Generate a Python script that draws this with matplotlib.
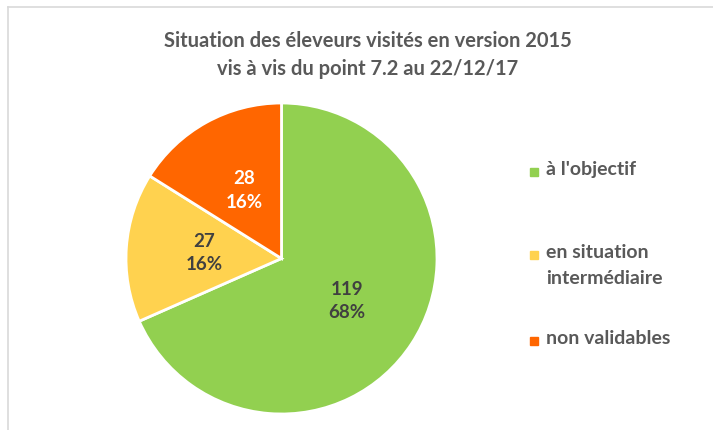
import matplotlib.pyplot as plt
from matplotlib.patches import Rectangle

# Data
labels = ["à l'objectif", "en situation\nintermédiaire", "non validables"]
values = [119, 27, 28]
colors = ["#92D050", "#FFD24F", "#FF6600"]
text_colors = ["#404040", "#404040", "#FFFFFF"]
title = "Situation des éleveurs visités en version 2015\nvis à vis du point 7.2 au 22/12/17"

plt.rcParams['font.family'] = ['Lato', 'DejaVu Sans']

W, H = 713, 430
fig = plt.figure(figsize=(W / 100, H / 100), dpi=100)

# thin frame of the chart area (cropped on right/bottom)
fig.add_artist(plt.Line2D([8 / W, 1], [1 - 7 / H, 1 - 7 / H], color="#D9D9D9", lw=1.2))
fig.add_artist(plt.Line2D([8 / W, 8 / W], [0, 1 - 7 / H], color="#D9D9D9", lw=1.2))

# pie: centre (281.5, 258.5), radius 155.5 px
cx, cy, r = 281.5, 258.5, 155.5
ax = fig.add_axes([(cx - r) / W, (H - cy - r) / H, 2 * r / W, 2 * r / H])
total = sum(values)
wedges, texts = ax.pie(values, colors=colors, startangle=90, counterclock=False,
                       labels=[f"{v}\n{round(v / total * 100)}%" for v in values],
                       labeldistance=0.5,
                       wedgeprops=dict(edgecolor="white", linewidth=2))
for t, c in zip(texts, text_colors):
    t.set_color(c)
    t.set_fontsize(13.5)
    t.set_fontweight("bold")
    t.set_ha("center")
    t.set_va("center")
    t.set_linespacing(1.45)
ax.set_aspect("equal")
ax.set_xlim(-1, 1)
ax.set_ylim(-1, 1)

fig.text(368 / W, 1 - 55 / H, title, ha="center", va="center", fontsize=14.5,
         fontweight="bold", color="#595959", linespacing=1.5)

# legend
leg_y = [172, 255, 341]
for lab, col, y in zip(labels, colors, leg_y):
    fig.add_artist(Rectangle((530 / W, 1 - (y + 4) / H), 8 / W, 8 / H, color=col))
    fig.text(546 / W, 1 - (y - 11) / H, lab, ha="left", va="top", fontsize=14,
             fontweight="bold", color="#595959", linespacing=1.65)

fig.savefig("out.png", dpi=100)
